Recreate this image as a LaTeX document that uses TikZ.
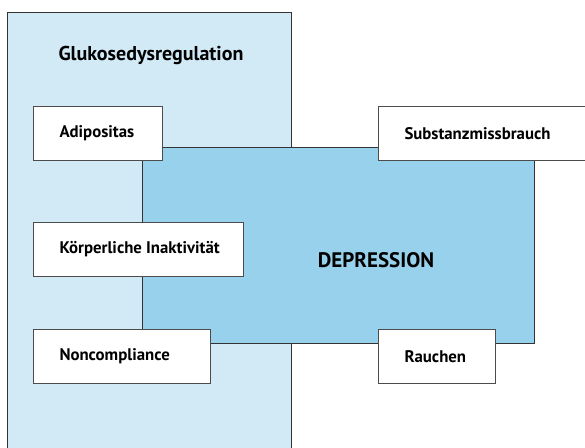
\documentclass[tikz,border=0pt]{standalone}
\usepackage{fontspec}
\setsansfont{PT Sans}
\definecolor{glukoblau}{HTML}{D2E9F6}
\definecolor{depriblau}{HTML}{97D1EC}
\newcommand{\linksbox}[2]{\makebox[#1][l]{#2}}
\tikzset{
  feld/.style={draw=black!80,line width=0.9pt},
  titel/.style={font=\sffamily\bfseries\fontsize{20}{24}\selectfont},
  faktor/.style={draw=black!70,line width=1pt,fill=white,anchor=north west,
    inner xsep=26pt,inner ysep=0pt,minimum height=54pt},
}
\begin{document}
\begin{tikzpicture}[x=1pt,y=-1pt,font=\sffamily\bfseries\fontsize{16.8}{20}\selectfont]
		\useasboundingbox (0,0) rectangle (585,447);
		\clip (0,0) rectangle (585,447);
		% Bereiche
		\draw[feld,fill=glukoblau] (7,12) rectangle (291,460);
		\draw[feld,fill=depriblau] (142,147) rectangle (534,343);
		\node[titel] (gluko) at (151,55) {Glukosedysregulation};
		\node[titel,font=\sffamily\bfseries\fontsize{21}{24}\selectfont] (depression) at (376,260) {DEPRESSION};
		% Faktoren
		\node[faktor] (adipositas) at (33,106) {\linksbox{77pt}{Adipositas}};
		\node[faktor] (inaktiv) at (33,222) {\linksbox{158pt}{Körperliche Inaktivität}};
		\node[faktor] (noncompliance) at (33,329) {\linksbox{125pt}{Noncompliance}};
		\node[faktor] (substanz) at (378,106) {\linksbox{182pt}{Substanzmissbrauch}};
		\node[faktor] (rauchen) at (378,329) {\linksbox{65pt}{Rauchen}};
\end{tikzpicture}
\end{document}
